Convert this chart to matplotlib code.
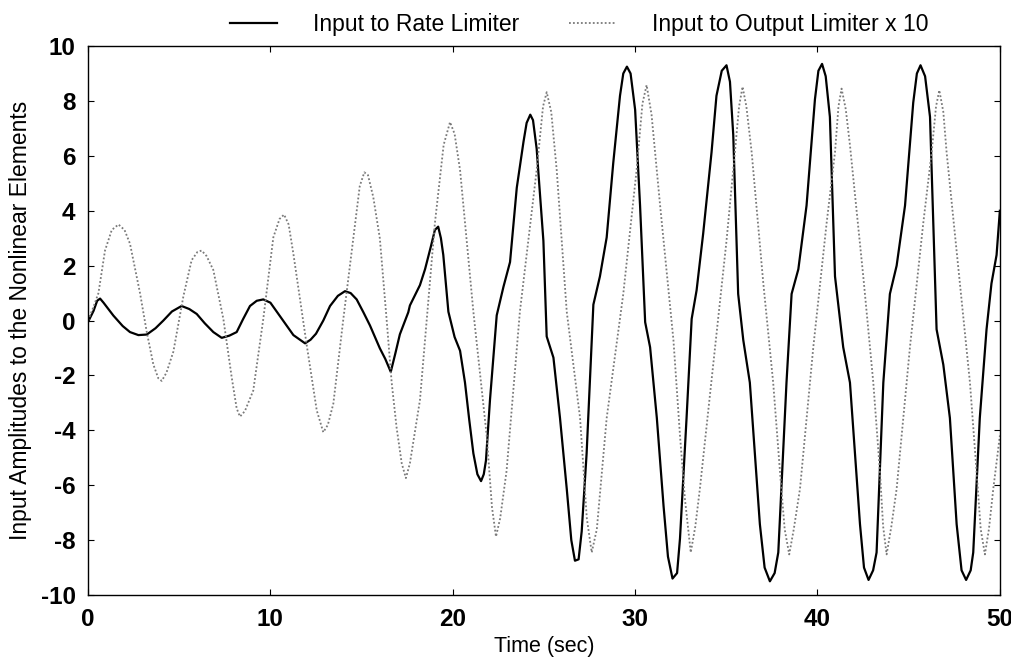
import matplotlib
matplotlib.use("Agg")
import matplotlib.pyplot as plt

plt.rcParams['font.family'] = ['Liberation Sans', 'DejaVu Sans']
plt.rcParams['axes.unicode_minus'] = False

# Input to Rate Limiter (solid)
rate_t = [0.0, 0.3, 0.5, 0.66, 0.85, 1.39, 1.9, 2.3, 2.76, 3.22, 3.7, 4.13, 4.6, 5.13, 5.55, 5.96,
          6.4, 6.87, 7.33, 7.75, 8.15, 8.5, 8.88, 9.25, 9.61, 10.0, 10.5, 10.9, 11.26, 11.9, 12.2,
          12.5, 12.9, 13.27, 13.7, 14.09, 14.4, 14.73, 15.1, 15.46, 16.0, 16.3, 16.6, 16.85, 17.1,
          17.56, 17.65, 18.2, 18.48, 18.8, 19.02, 19.2, 19.35, 19.48, 19.76, 20.1, 20.4, 20.67,
          20.9, 21.13, 21.35, 21.55, 21.7, 21.82, 22.04, 22.41, 22.78, 23.14, 23.51, 23.88, 24.05,
          24.25, 24.4, 24.6, 24.97, 25.15, 25.52, 25.88, 26.25, 26.5, 26.7, 26.9, 27.07, 27.34,
          27.71, 28.07, 28.44, 28.8, 29.17, 29.35, 29.55, 29.75, 30.0, 30.27, 30.55, 30.82, 31.19,
          31.56, 31.8, 32.05, 32.3, 32.46, 32.82, 33.1, 33.37, 33.73, 34.19, 34.46, 34.75, 35.01,
          35.2, 35.38, 35.65, 35.93, 36.29, 36.84, 37.1, 37.39, 37.65, 37.85, 38.3, 38.58, 38.95,
          39.4, 39.86, 40.05, 40.25, 40.45, 40.68, 40.96, 41.41, 41.78, 42.33, 42.55, 42.8, 43.05,
          43.24, 43.61, 43.97, 44.34, 44.8, 45.25, 45.45, 45.65, 45.9, 46.17, 46.53, 46.9, 47.26,
          47.63, 47.9, 48.15, 48.4, 48.54, 48.9, 49.27, 49.54, 49.82, 50.0]
rate_v = [-0.05, 0.35, 0.72, 0.8, 0.65, 0.18, -0.2, -0.42, -0.53, -0.51, -0.28, 0.0, 0.33, 0.53, 0.42, 0.24,
          -0.1, -0.42, -0.63, -0.55, -0.42, 0.05, 0.53, 0.72, 0.77, 0.65, 0.18, -0.2, -0.53, -0.83, -0.7,
          -0.48, 0.0, 0.53, 0.9, 1.07, 1.0, 0.77, 0.3, -0.18, -1.01, -1.4, -1.87, -1.2, -0.5,
          0.3, 0.55, 1.29, 1.87, 2.7, 3.3, 3.42, 3.0, 2.39, 0.32, -0.6, -1.1, -2.26,
          -3.6, -4.84, -5.6, -5.85, -5.6, -5.1, -2.9, 0.19, 1.23, 2.13, 4.84, 6.52, 7.2,
          7.5, 7.3, 6.26, 2.9, -0.58, -1.35, -3.55, -6.13, -8.0, -8.75, -8.7, -7.68, -4.84,
          0.58, 1.61, 3.03, 5.74, 8.19, 9.0, 9.25, 9.0, 7.68, 4.19, -0.06, -0.97, -3.55,
          -6.77, -8.6, -9.4, -9.2, -7.94, -3.55, 0.06, 1.1, 3.16, 6.13, 8.19, 9.1, 9.3,
          8.7, 6.77, 0.97, -0.71, -2.26, -7.42, -9.0, -9.5, -9.2, -8.45, -2.26, 0.97, 1.87,
          4.19, 8.06, 9.1, 9.35, 8.9, 7.42, 1.61, -0.97, -2.26, -7.42, -9.0, -9.45, -9.1,
          -8.45, -2.26, 0.97, 2.0, 4.19, 7.94, 9.0, 9.3, 8.9, 7.42, -0.32, -1.61, -3.55,
          -7.42, -9.1, -9.45, -9.1, -8.45, -3.55, -0.32, 1.35, 2.39, 4.0]

# Input to Output Limiter x 10 (dotted)
out_t = [0.0, 0.3, 0.57, 0.93, 1.3, 1.67, 2.0, 2.3, 2.85, 3.22, 3.58, 3.85, 4.04, 4.3, 4.68, 5.23,
         5.68, 6.0, 6.23, 6.5, 6.87, 7.42, 7.88, 8.15, 8.33, 8.6, 9.06, 9.61, 10.16, 10.5, 10.75,
         11.0, 11.26, 11.99, 12.54, 12.9, 13.15, 13.45, 14.0, 14.55, 14.9, 15.15, 15.35, 15.64,
         16.0, 16.37, 16.65, 16.92, 17.2, 17.43, 17.65, 18.2, 19.02, 19.5, 19.85, 20.1, 20.4,
         21.13, 21.86, 22.15, 22.37, 22.6, 22.95, 23.68, 24.6, 24.95, 25.15, 25.4, 25.7, 26.25,
         26.98, 27.35, 27.62, 27.9, 28.44, 29.35, 30.08, 30.4, 30.63, 30.9, 31.37, 32.1, 32.46,
         32.73, 33.05, 33.3, 33.55, 34.28, 35.01, 35.47, 35.7, 35.89, 36.1, 36.39, 37.03, 37.57,
         37.94, 38.2, 38.45, 38.7, 39.04, 39.77, 40.5, 40.96, 41.15, 41.32, 41.55, 41.78, 42.51,
         43.06, 43.42, 43.6, 43.79, 44.05, 44.34, 45.07, 45.8, 46.26, 46.5, 46.68, 46.9, 47.08,
         47.81, 48.36, 48.72, 48.95, 49.18, 49.4, 49.64, 50.0]
out_v = [0.0, 0.5, 1.0, 2.55, 3.3, 3.5, 3.3, 2.8, 1.0, -0.42, -1.6, -2.1, -2.2, -1.9, -1.13, 0.89,
         2.2, 2.5, 2.55, 2.35, 1.84, 0.06, -2.08, -3.2, -3.5, -3.3, -2.55, 0.06, 3.03, 3.7, 3.86,
         3.5, 2.43, -0.89, -3.27, -4.07, -3.8, -3.03, 0.06, 3.03, 4.9, 5.4, 5.3, 4.5,
         3.0, 0.06, -2.26, -3.9, -5.2, -5.74, -5.2, -2.9, 3.55, 6.4, 7.23, 6.8, 5.48,
         0.32, -4.19, -6.8, -7.87, -7.2, -5.48, 0.32, 5.48, 7.8, 8.32, 7.6, 5.48, 0.32,
         -3.55, -7.2, -8.45, -7.6, -3.55, 0.97, 5.48, 7.9, 8.58, 7.5, 4.19, -0.71, -4.19,
         -6.5, -8.45, -7.5, -6.13, -1.61, 2.9, 6.13, 7.8, 8.52, 7.8, 6.13, 1.35, -2.26,
         -5.48, -7.6, -8.52, -7.6, -6.13, -0.97, 3.55, 6.13, 7.8, 8.45, 7.7, 6.39, 1.61,
         -2.26, -5.48, -7.5, -8.52, -7.5, -6.13, -0.97, 3.55, 6.13, 7.8, 8.39, 7.6, 6.13,
         1.35, -2.26, -5.48, -7.6, -8.52, -7.6, -6.13, -4.19]

x_ticks = [0, 10, 20, 30, 40, 50]
y_ticks = [-10, -8, -6, -4, -2, 0, 2, 4, 6, 8, 10]

fig = plt.figure(figsize=(10.12, 6.58), dpi=100)
ax = fig.add_axes([0.087, 0.0957, 0.901, 0.8343])

l1, = ax.plot(rate_t, rate_v, color='black', lw=1.6, label='Input to Rate Limiter')
l2, = ax.plot(out_t, out_v, color='#7a7a7a', lw=1.3, linestyle=(0, (1, 1.2)),
              label='Input to Output Limiter x 10')

ax.set_xlim(0, 50)
ax.set_ylim(-10, 10)
ax.set_xticks(x_ticks)
ax.set_yticks(y_ticks)
ax.tick_params(direction='in', length=4, width=0.8, top=True, right=True,
               labelsize=17.5, pad=9)
for lab in ax.get_xticklabels() + ax.get_yticklabels():
    lab.set_fontweight('bold')
for s in ax.spines.values():
    s.set_linewidth(1.0)

ax.set_xlabel('Time (sec)', fontsize=15.5, labelpad=4)
ax.set_ylabel('Input Amplitudes to the Nonlinear Elements', fontsize=16.5, labelpad=6)

fig.legend(handles=[l1, l2], loc='upper left', bbox_to_anchor=(0.215, 1.0),
           ncol=2, frameon=False, fontsize=16.5, handlelength=2.05,
           columnspacing=2.2, borderaxespad=0.15, handletextpad=1.55)

fig.savefig('out.png', dpi=100)
